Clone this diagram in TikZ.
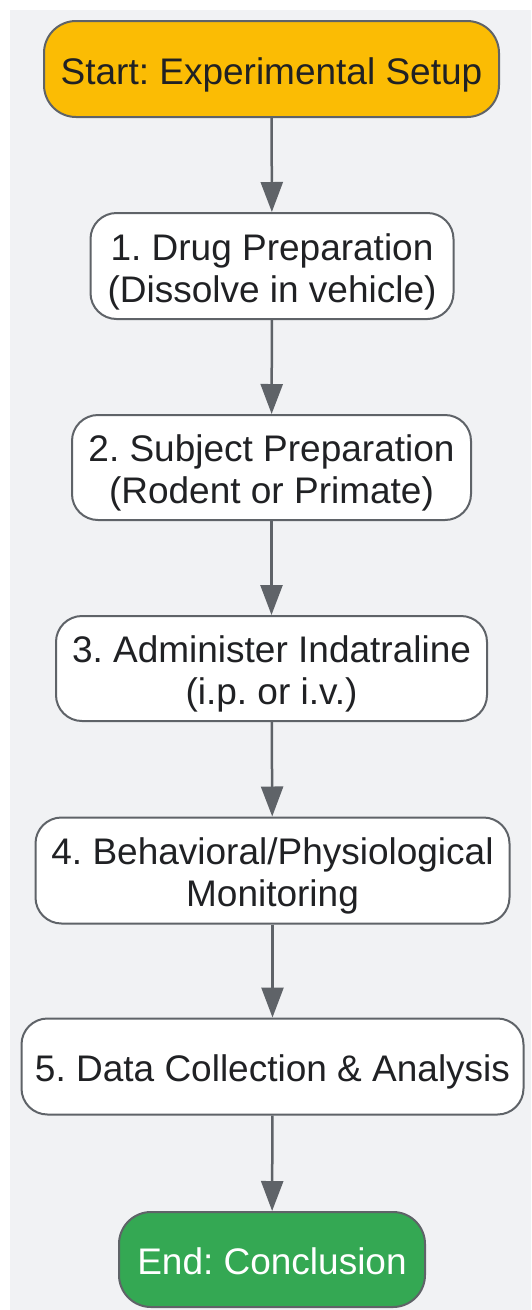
\documentclass[tikz,border=0pt]{standalone}
\usepackage{fontspec}
\setmainfont{Liberation Sans}
\usetikzlibrary{arrows.meta}
\definecolor{bg}{HTML}{F1F2F4}
\definecolor{edge}{HTML}{5F6368}
\definecolor{txt}{HTML}{202124}
\definecolor{startc}{HTML}{FBBC04}
\definecolor{endc}{HTML}{34A853}
\newcommand{\lbl}[1]{\raisebox{-7pt}[\height][\depth]{\begin{tabular}{@{}c@{}}#1\end{tabular}}}
\tikzset{
  x=1pt, y=-1pt,
  stepbox/.style={draw=edge, line width=2pt, fill=white, rounded corners=26pt,
    inner sep=0pt, align=center, text=txt, font=\fontsize{37}{42}\selectfont},
  termbox/.style={stepbox, rounded corners=32pt},
  conn/.style={draw=edge, line width=2.5pt, -{Triangle[length=30pt,width=22pt]}},
}
\frenchspacing
\renewcommand{\arraystretch}{1}
\begin{document}
\begin{tikzpicture}
\useasboundingbox (0,0) rectangle (531,1310);
\fill[white] (0,0) rectangle (531,1310);
\fill[bg] (10,10) rectangle (531,1310);
\node[termbox, fill=startc, minimum width=455pt, minimum height=96pt] (s) at (271.5,69) {\lbl{Start: Experimental Setup}};
\node[stepbox, minimum width=363pt, minimum height=106pt] (n1) at (272,266) {\lbl{1. Drug Preparation\\(Dissolve in vehicle)}};
\node[stepbox, minimum width=399pt, minimum height=105pt] (n2) at (271.5,467.5) {\lbl{2. Subject Preparation\\(Rodent or Primate)}};
\node[stepbox, minimum width=431pt, minimum height=105pt] (n3) at (271.5,668.5) {\lbl{3. Administer Indatraline\\(i.p. or i.v.)}};
\node[stepbox, minimum width=474pt, minimum height=106pt] (n4) at (272.5,870.5) {\lbl{4. Behavioral/Physiological\\Monitoring}};
\node[stepbox, minimum width=502pt, minimum height=96pt] (n5) at (272.5,1066.5) {\lbl{5. Data Collection \& Analysis}};
\node[termbox, fill=endc, text=white, minimum width=306pt, minimum height=95pt] (e) at (272,1259.5) {\lbl{End: Conclusion}};
\draw[conn] (s) -- (n1);
\draw[conn] (n1) -- (n2);
\draw[conn] (n2) -- (n3);
\draw[conn] (n3) -- (n4);
\draw[conn] (n4) -- (n5);
\draw[conn] (n5) -- (e);
\end{tikzpicture}
\end{document}
